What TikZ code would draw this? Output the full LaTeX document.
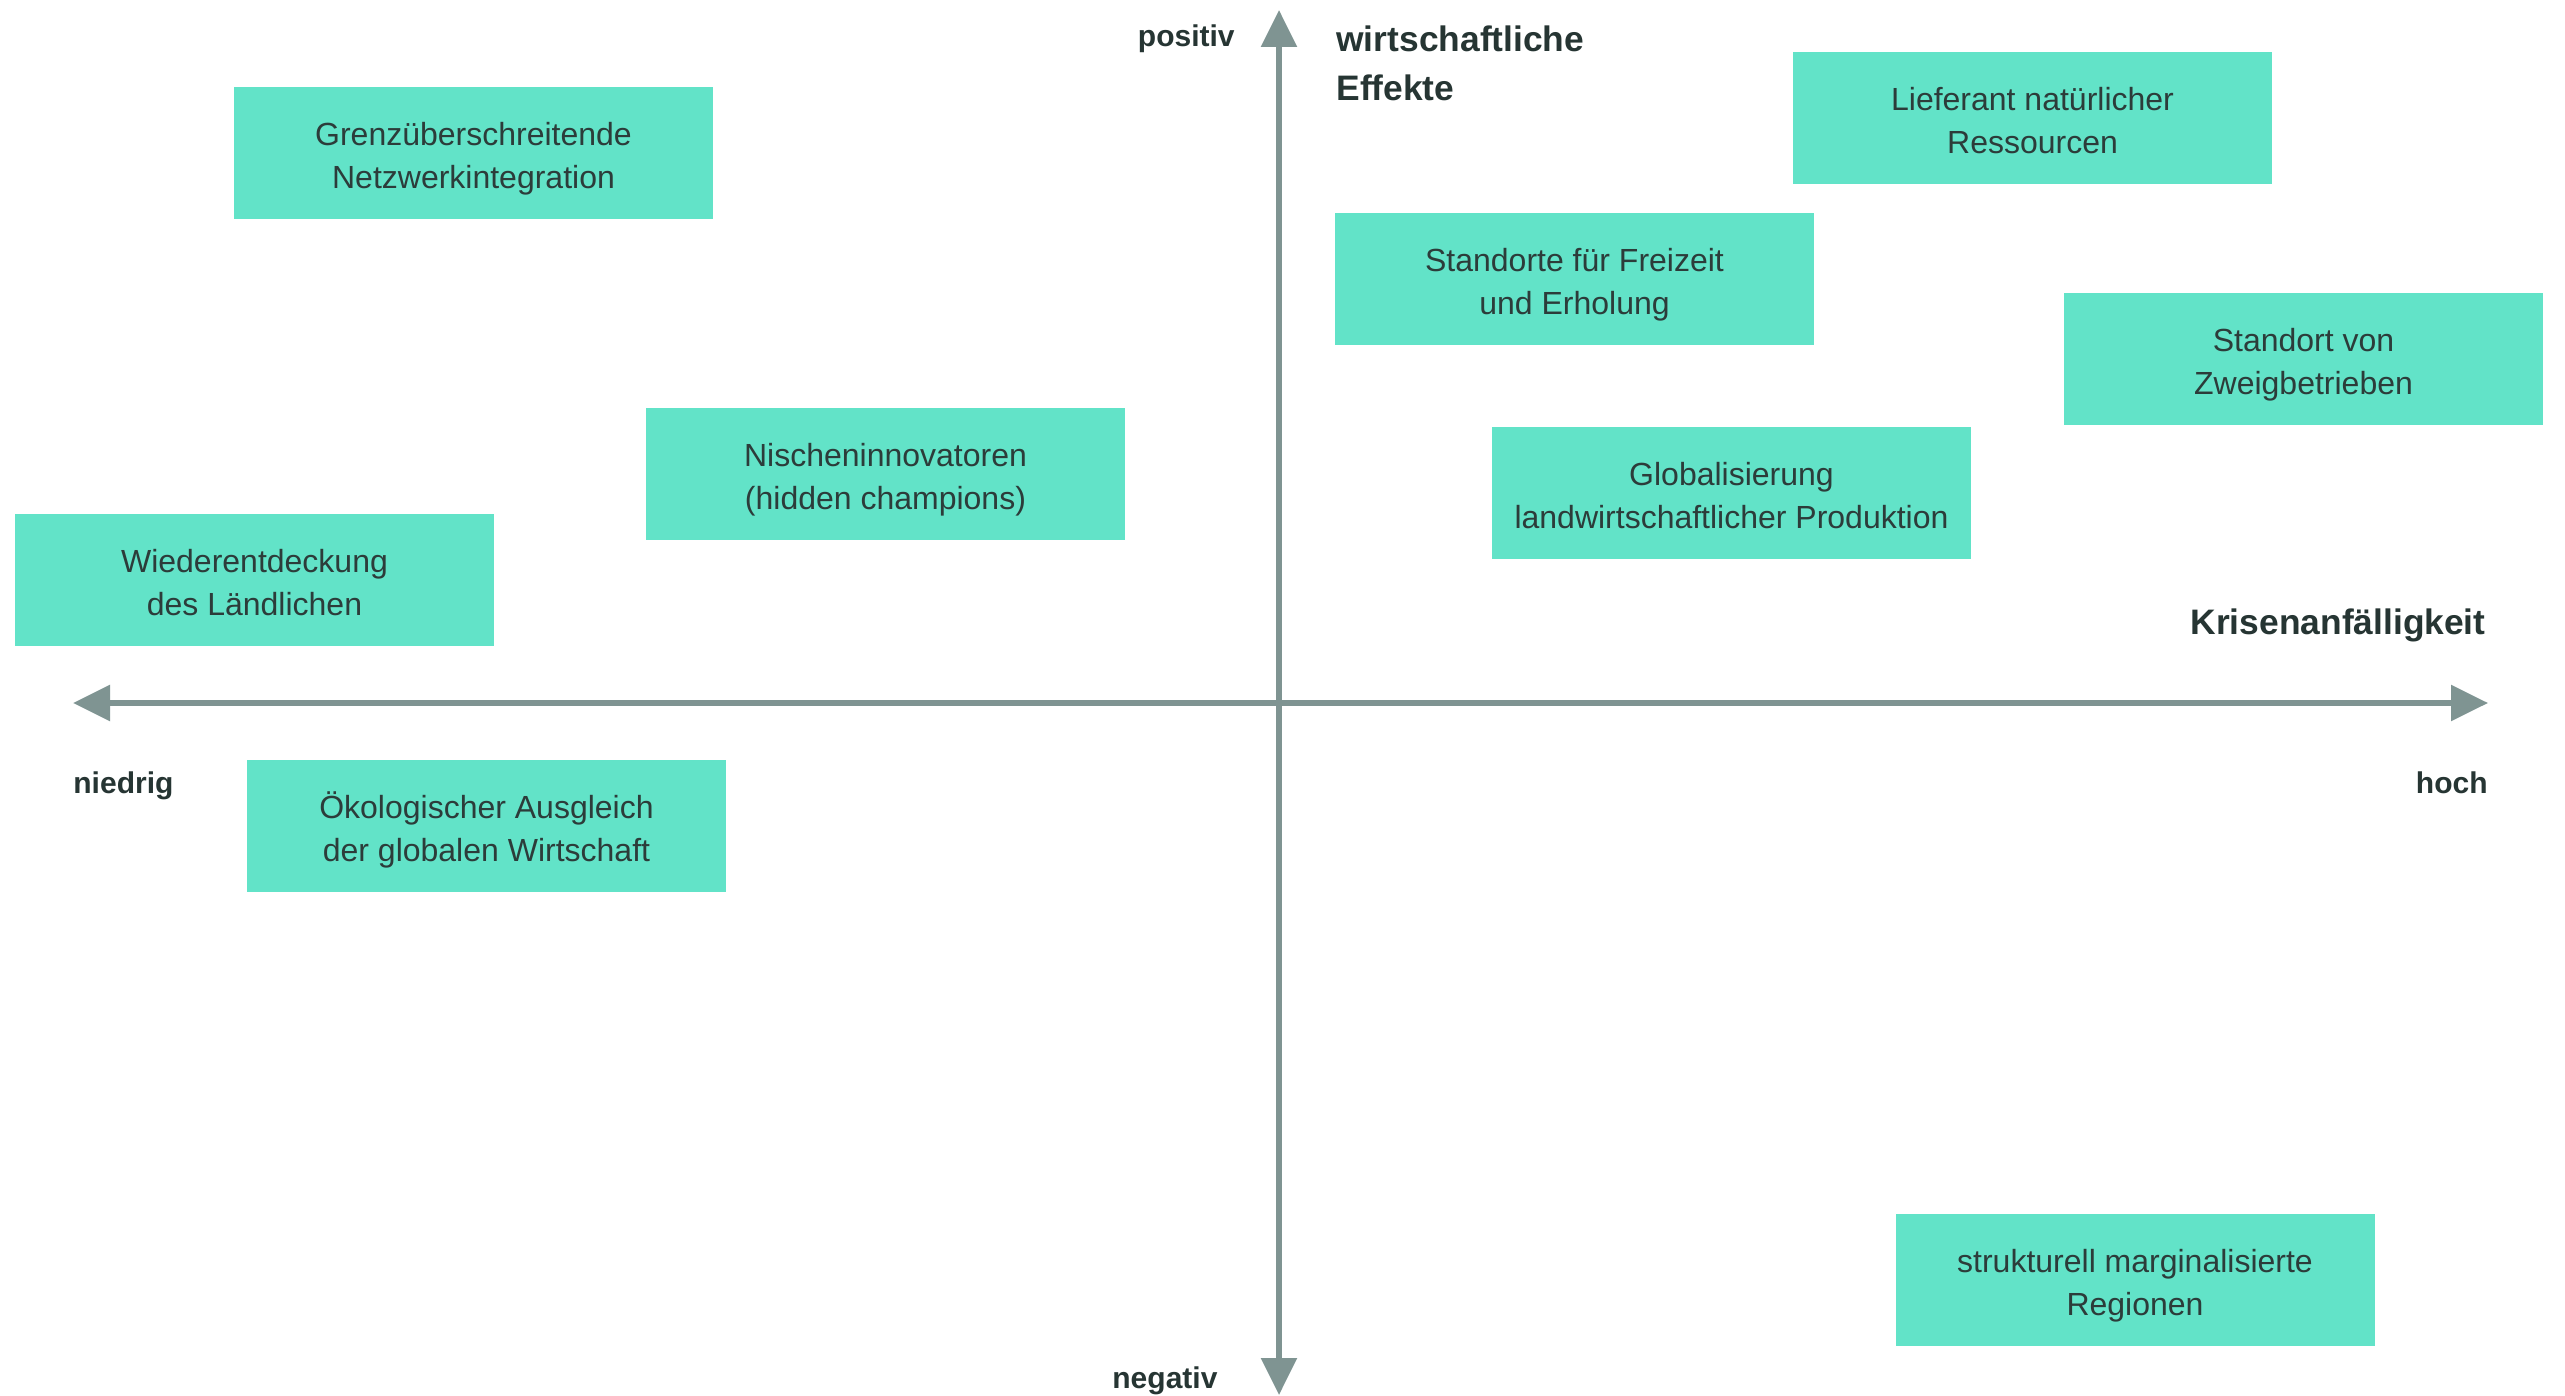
\documentclass[tikz,border=0pt]{standalone}
\usepackage{fontspec}
\setmainfont{Liberation Sans}
\usetikzlibrary{arrows.meta}
\definecolor{boxfill}{HTML}{62E3C8}
\definecolor{axisgray}{HTML}{7F9492}
\definecolor{txtdark}{HTML}{263533}
\definecolor{boxtxt}{HTML}{2C3C3A}
\begin{document}
\begin{tikzpicture}[x=0.5pt,y=-0.5pt,
  catbox/.style={fill=boxfill,draw=none,minimum width=239.5pt,minimum height=66pt,inner sep=0pt,
    align=center,text=boxtxt,text height=35.5pt,text depth=0pt,font=\fontsize{16}{21.5}\selectfont},
  axislabel/.style={text=txtdark,inner sep=0pt,font=\bfseries\fontsize{15}{18}\selectfont},
  axistitle/.style={text=txtdark,inner sep=0pt,font=\bfseries\fontsize{17.7}{24.5}\selectfont},
  axisline/.style={draw=axisgray,line width=2.75pt,
    {Triangle[length=18.5pt,width=17.5pt]}-{Triangle[length=18.5pt,width=17.5pt]}}]
\useasboundingbox (0,0) rectangle (2565,1396);
\fill[white] (0,0) rectangle (2565,1396);
% axes
\coordinate (ytop) at (1279,10);
\coordinate (ybot) at (1279,1395);
\coordinate (xleft) at (73,703);
\coordinate (xright) at (2488,703);
\draw[axisline] (xleft) -- (xright);
\draw[axisline] (ybot) -- (ytop);
% axis labels
\node[axislabel,anchor=base east] (pos) at (1235,47) {positiv};
\node[axislabel,anchor=base west] (neg) at (1112,1388) {negativ};
\node[axislabel,anchor=base west] (low) at (73,793) {niedrig};
\node[axislabel,anchor=base east] (high) at (2488,793) {hoch};
\node[axistitle,anchor=base west,align=left] (wirt) at (1336,101) {wirtschaftliche\\Effekte};
\node[axistitle,anchor=base east] (kris) at (2486,634) {Krisenanfälligkeit};
% boxes
\node[catbox] (b1) at (473.5,153.5) {Grenzüberschreitende\\Netzwerkintegration};
\node[catbox] (b2) at (2032.5,118.5) {Lieferant natürlicher\\Ressourcen};
\node[catbox] (b3) at (1574.5,279) {Standorte für Freizeit\\und Erholung};
\node[catbox] (b4) at (2303.5,359) {Standort von\\Zweigbetrieben};
\node[catbox] (b5) at (885.5,473.5) {Nischeninnovatoren\\(hidden champions)};
\node[catbox] (b6) at (1731.5,492.5) {Globalisierung\\landwirtschaftlicher Produktion};
\node[catbox] (b7) at (254.5,580) {Wiederentdeckung\\des Ländlichen};
\node[catbox] (b8) at (486.5,825.5) {Ökologischer Ausgleich\\der globalen Wirtschaft};
\node[catbox] (b9) at (2135,1280) {strukturell marginalisierte\\Regionen};
\end{tikzpicture}
\end{document}
